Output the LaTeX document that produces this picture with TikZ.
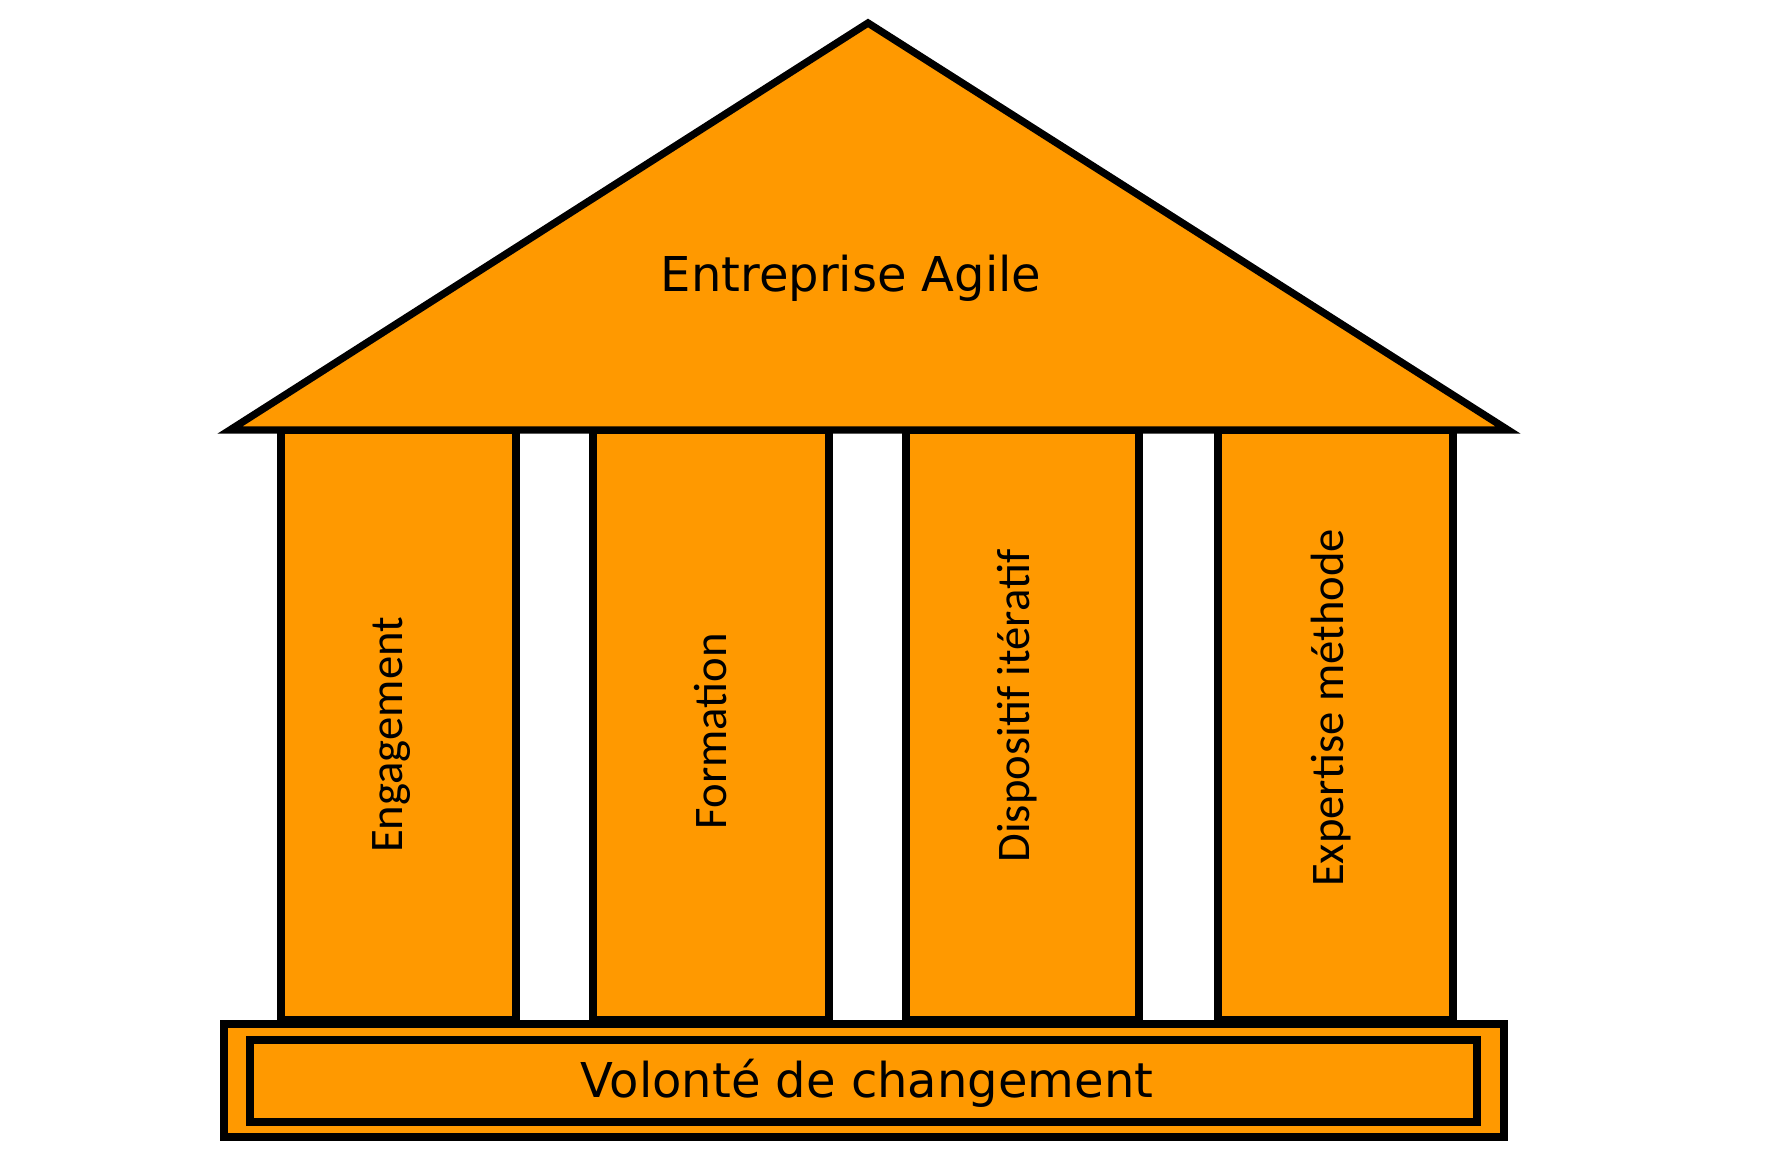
\documentclass[tikz,border=0pt]{standalone}
\usepackage{fontspec}
\setmainfont{Carlito}
\newfontfamily\wide{DejaVu Sans}
\begin{document}
\begin{tikzpicture}[x=0.75pt,y=-0.75pt,
  part/.style={draw=black,fill=orange1,line width=5.5pt,line join=miter},
  lbl/.style={font=\fontsize{35}{40}\selectfont},
  wlbl/.style={font=\wide\fontsize{36}{40}\selectfont}]
\definecolor{orange1}{HTML}{FF9900}
\useasboundingbox (0,0) rectangle (1784,1174);
\draw[part] (281,430) rectangle (516,1020);
\draw[part] (593,430) rectangle (829,1020);
\draw[part] (906,430) rectangle (1139,1020);
\draw[part] (1218,430) rectangle (1453,1020);
\draw[part] (868,23) -- (1508,430) -- (230,430) -- cycle;
\draw[part] (224,1024) rectangle (1504,1137);
\draw[part] (250,1040) rectangle (1477,1122);
\node[wlbl] (roof) at (851,278) {Entreprise Agile};
\node[lbl,rotate=90] (p1) at (392,735) {Engagement};
\node[lbl,rotate=90] (p2) at (711,731) {Formation};
\node[lbl,rotate=90] (p3) at (1017,706) {Dispositif itératif};
\node[lbl,rotate=90] (p4) at (1331,708) {Expertise méthode};
\node[wlbl] (base) at (867,1083) {Volonté de changement};
\end{tikzpicture}
\end{document}
